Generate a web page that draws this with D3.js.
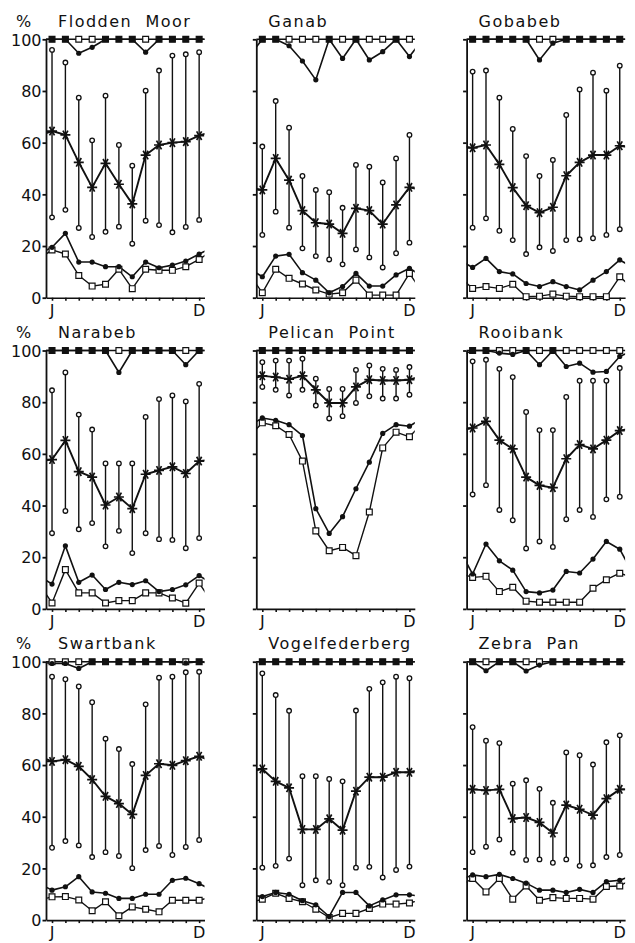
<!DOCTYPE html>
<html>
<head>
<meta charset="utf-8">
<script src="https://cdn.jsdelivr.net/npm/d3@7"></script>
<style>
  body { margin: 0; background: #fff; }
  text { font-family: "DejaVu Sans", sans-serif; fill: #111; }
</style>
</head>
<body>
<div id="wrapper"></div>
<script>
// stations, row by row
const stations = ["Flodden  Moor", "Ganab", "Gobabeb",
                  "Narabeb", "Pelican  Point", "Rooibank",
                  "Swartbank", "Vogelfederberg", "Zebra  Pan"]
const monthLabels = ["J", "F", "M", "A", "M", "J", "J", "A", "S", "O", "N", "D"]
const yTicks = [0, 20, 40, 60, 80, 100]

// absolute maximum (open squares at the top)
const absMax = [
  [100, 100, 100, 100, 100, 100, 100, 100, 100, 100, 100, 100],
  [100, 100, 100, 100, 100, 100, 100, 100, 100, 100, 100, 100],
  [100, 100, 100, 100, 100, 100, 100, 100, 100, 100, 100, 100],
  [100, 100, 100, 100, 100, 100, 100, 100, 100, 100, 100, 100],
  [100, 100, 100, 100, 100, 100, 100, 100, 100, 100, 100, 100],
  [100, 100, 100, 100, 100, 100, 100, 100, 100, 100, 100, 100],
  [100, 100, 100, 100, 100, 100, 100, 100, 100, 100, 100, 100],
  [100, 100, 100, 100, 100, 100, 100, 100, 100, 100, 100, 100],
  [100, 100, 100, 100, 100, 100, 100, 100, 100, 100, 100, 100],
]
// mean maximum (filled circles near the top)
const meanMax = [
  [100, 100, 94.6, 96.9, 100, 100, 100, 95, 100, 100, 100, 100],
  [100, 100, 97.5, 91.6, 84.3, 100, 92.6, 100, 92, 95.2, 100, 93.3],
  [100, 100, 100, 100, 100, 92, 98.5, 100, 100, 100, 100, 100],
  [100, 100, 100, 100, 100, 91.5, 100, 100, 100, 100, 94.5, 100],
  [100, 100, 100, 100, 100, 100, 100, 100, 100, 100, 100, 100],
  [100, 100, 99, 98.5, 100, 94.5, 100, 93.8, 95.1, 91.6, 91.9, 97.7],
  [99.3, 99.3, 97.4, 100, 100, 100, 100, 100, 100, 100, 99.5, 100],
  [100, 100, 100, 100, 100, 100, 100, 100, 100, 100, 100, 100],
  [100, 96.5, 100, 100, 96.4, 98.7, 100, 100, 100, 100, 100, 100],
]
// monthly mean (asterisks)
const meanValues = [
  [64.5, 63, 52.4, 42.7, 52, 43.9, 36.3, 55.2, 59.1, 60, 60.4, 62.7],
  [41.7, 53.9, 45.5, 33.7, 29, 28.5, 24.9, 34.6, 33.7, 28.5, 35.9, 42.7],
  [58, 59.1, 51.6, 42.6, 35.6, 32.9, 35, 47.2, 52.4, 55.2, 55.2, 58.8],
  [57.8, 65.2, 53.1, 51, 40.2, 43.3, 38.8, 52.1, 53.6, 55, 52.4, 57.2],
  [90.2, 89.7, 88.9, 90.2, 84.8, 79.7, 79.7, 85.9, 88.7, 88.4, 88.4, 88.7],
  [70, 72.6, 65.3, 61.9, 51, 47.8, 46.9, 58.1, 63.6, 61.9, 65.3, 69],
  [61.4, 62.1, 59.5, 54.4, 47.9, 45.1, 40.9, 56, 60.5, 59.9, 61.7, 63.4],
  [58.5, 53.7, 51.2, 35.1, 35.1, 39.2, 34.8, 49.9, 55.3, 55.3, 57.2, 57.2],
  [50.6, 50.2, 50.6, 39.3, 39.7, 37.8, 33.7, 44.5, 42.9, 40.6, 47, 50.6],
]
// range bars, upper end (open circles)
const rangeHigh = [
  [95.9, 91, 77.4, 60.9, 78.2, 59.1, 51.1, 80.1, 87.9, 93.7, 94.2, 95],
  [58.5, 76.1, 65.8, 47.1, 41.7, 40.8, 34.8, 51.4, 50.7, 44.6, 53.9, 63],
  [87.5, 87.9, 77.4, 65.3, 54.8, 47.1, 53.3, 70.7, 80.6, 87.1, 80.1, 89.8],
  [84.6, 91.5, 75.2, 69.4, 56.3, 56.3, 56.3, 74.3, 81.2, 82.6, 80.3, 87.1],
  [95.5, 96.1, 96.1, 96.8, 89.1, 85.1, 85.1, 92.5, 94.2, 92.9, 92.5, 93.6],
  [95.8, 96.4, 92.9, 89.7, 76.2, 69.2, 69.2, 82, 88.3, 88.3, 88.3, 93.2],
  [94.2, 93.2, 90.4, 84.3, 70.2, 66.2, 60.4, 83.5, 93.8, 94.2, 95.9, 96.1],
  [95.5, 87.1, 81, 55.7, 55.7, 54.6, 53.7, 81.1, 89.5, 92, 94.2, 93.6],
  [74.7, 69.4, 68.5, 52.8, 54.1, 50.8, 45.4, 64.9, 63.8, 60.2, 68.8, 71.5],
]
// range bars, lower end (open circles)
const rangeLow = [
  [31.1, 34, 27, 23.5, 25.5, 27.5, 20.9, 29.8, 28.1, 25.3, 27.4, 30.1],
  [24.3, 33.3, 27.1, 19.1, 16.1, 14.8, 12.9, 18.7, 15.6, 11.7, 17.2, 21.3],
  [27.1, 30.7, 25.9, 22.3, 16.9, 19.5, 18.1, 22.3, 22.6, 23, 24.3, 26.5],
  [29.3, 37.9, 30.8, 33.2, 24.2, 30.2, 21.6, 29.3, 27, 26.7, 23.5, 27.4],
  [85.9, 84.8, 82.6, 84.8, 78.7, 73.7, 74.6, 79.7, 82.3, 81.4, 81.4, 82.9],
  [44.3, 47.9, 38.3, 34.3, 23.4, 26.1, 24, 34.7, 38.3, 35.6, 42.4, 43.4],
  [28, 30.6, 28.9, 24.4, 26.3, 24.8, 20.1, 27.1, 28.7, 25.2, 28.3, 31],
  [20.3, 21, 23.8, 13.5, 15.4, 14.8, 13.5, 20.3, 20.6, 16.5, 19.4, 20.7],
  [26.3, 28.4, 31.2, 26.1, 23.3, 23.5, 22.2, 23.5, 21, 21.2, 24.4, 25.2],
]
// mean minimum (filled circles near the bottom)
const meanMin = [
  [19.5, 24.9, 13.8, 13.8, 12, 12, 8.1, 13.8, 11.6, 12.6, 14.2, 16.9],
  [8.1, 16.1, 16.8, 9.7, 6.8, 1.9, 4.3, 9.4, 4.5, 4.5, 8.8, 11.4],
  [11.7, 15.2, 10.1, 9.2, 5.5, 4.3, 6.2, 4.3, 3, 6.8, 10.1, 14.6],
  [9.6, 24.4, 10.3, 13.1, 7.5, 10.3, 9.4, 10.9, 6.7, 7.5, 9.3, 12.9],
  [73.9, 73, 71.3, 67.1, 38.8, 29.2, 35.7, 46.5, 56.8, 67.9, 71.3, 70.7],
  [13.5, 25.1, 18.6, 15, 6.7, 6.2, 7.3, 14.5, 13.9, 19.3, 26.1, 23.1],
  [11.6, 12.9, 16.8, 10.9, 10.4, 8.4, 8.4, 10, 10, 15.4, 16.2, 14.1],
  [9.1, 10.7, 10, 7.5, 5.9, 1.4, 10.7, 10.7, 5.5, 7.8, 9.8, 9.8],
  [17.5, 16.8, 17.7, 16.1, 14.3, 11.6, 11.6, 10.7, 11.9, 10.7, 14.9, 15.4],
]
// absolute minimum (open squares near the bottom)
const absMin = [
  [18.5, 16.9, 8.6, 4.5, 5.2, 11, 3.5, 11, 10.6, 10.6, 12, 14.8],
  [1.9, 11, 7.5, 5.3, 3, 1.4, 1.9, 6.8, 1, 1, 1, 9.4],
  [3.6, 4.3, 3.6, 5.2, 0.4, 0.6, 1.4, 0.6, 0.4, 0.4, 0.4, 8.1],
  [2.3, 15.2, 6.2, 6.2, 2.3, 3.2, 3.2, 6.2, 6.2, 4.2, 2.2, 10],
  [72, 70.9, 67.5, 57.2, 30.2, 22.5, 23.8, 20.6, 37.5, 62.3, 68.4, 66.6],
  [12.2, 12.6, 6.7, 8.4, 3, 2.6, 2.6, 2.6, 2.6, 8, 11.3, 13.8],
  [9, 9.1, 7.8, 3.6, 7.1, 1.7, 5.1, 4.2, 3.2, 7.7, 7.7, 7.7],
  [8.1, 10.4, 8.4, 7.1, 4.2, 1, 2.6, 2.6, 4.5, 6.2, 6.2, 6.6],
  [16.1, 10.9, 16.1, 8.1, 13.2, 7.7, 8.7, 8.4, 8.4, 8.1, 13, 13.2],
]

// chart dimensions
const dimensions = {
  width: 635,
  height: 943,
  panelWidth: 158.5,
  panelHeight: 258.4,
  colStep: 210.3,
  rowStep: 311.2,
  margins: { top: 39.3, left: 46 },
}

const svg = d3.select("#wrapper")
  .append("svg")
  .attr("width", dimensions.width)
  .attr("height", dimensions.height)

const xScale = d3.scaleLinear()
  .domain([-0.45, 11.4])
  .range([0, dimensions.panelWidth])

const yScale = d3.scaleLinear()
  .domain([0, 100])
  .range([dimensions.panelHeight, 0])

// lines wrap Dec -> Jan at both ends, then get clipped to the panel
const wrapped = values => [
  { m: -1, v: values[11] },
  ...values.map((v, m) => ({ m, v })),
  { m: 12, v: values[0] },
]
const lineGenerator = d3.line()
  .x(d => xScale(d.m))
  .y(d => yScale(d.v))

const asterisk = d3.symbol().type(d3.symbolAsterisk).size(70)
const square = d3.symbol().type(d3.symbolSquare).size(34)

stations.forEach((name, i) => {
  const col = i % 3
  const row = Math.floor(i / 3)
  const g = svg.append("g")
    .attr("transform", `translate(${dimensions.margins.left + col * dimensions.colStep},${dimensions.margins.top + row * dimensions.rowStep})`)

  g.append("clipPath")
    .attr("id", `clip${i}`)
    .append("rect")
    .attr("x", 0)
    .attr("y", -10)
    .attr("width", dimensions.panelWidth)
    .attr("height", dimensions.panelHeight + 20)

  // axes
  const yAxis = g.append("g")
    .call(d3.axisLeft(yScale)
      .tickValues(yTicks)
      .tickSize(3.5)
      .tickSizeOuter(0)
      .tickPadding(1)
      .tickFormat(d => col === 0 ? d : ""))
  yAxis.selectAll("text").style("font-size", "16px").attr("dy", "0.36em")
  yAxis.selectAll("path, line").attr("stroke", "#111").attr("stroke-width", 1.8)

  const xAxis = g.append("g")
    .attr("transform", `translate(0,${dimensions.panelHeight})`)
    .call(d3.axisBottom(xScale)
      .tickValues(d3.range(12))
      .tickSize(3)
      .tickSizeOuter(0)
      .tickFormat(""))
  xAxis.selectAll("path, line").attr("stroke", "#111").attr("stroke-width", 1.6)

  g.selectAll(".mlabel")
    .data([0, 11])
    .join("text")
    .attr("x", d => xScale(d))
    .attr("y", dimensions.panelHeight + 18)
    .attr("text-anchor", "middle")
    .style("font-size", "16px")
    .text(d => monthLabels[d])

  // titles
  g.append("text")
    .attr("x", 12)
    .attr("y", -12.5)
    .style("font-size", "16px")
    .style("letter-spacing", "1.5px")
    .style("white-space", "pre")
    .text(name)
  if (col === 0) {
    g.append("text")
      .attr("x", -30)
      .attr("y", -12.5)
      .style("font-size", "16px")
      .text("%")
  }

  const lines = g.append("g").attr("clip-path", `url(#clip${i})`)
  const addLine = (values, width) => lines.append("path")
    .attr("d", lineGenerator(wrapped(values)))
    .attr("fill", "none")
    .attr("stroke", "#111")
    .attr("stroke-width", width)
    .attr("stroke-linejoin", "round")

  addLine(absMax[i], 1.6)
  addLine(meanMax[i], 1.6)
  addLine(meanValues[i], 1.9)
  addLine(meanMin[i], 1.6)
  addLine(absMin[i], 1.4)

  // range bars
  g.selectAll(".bar")
    .data(d3.range(12))
    .join("line")
    .attr("x1", m => xScale(m))
    .attr("x2", m => xScale(m))
    .attr("y1", m => yScale(rangeHigh[i][m]))
    .attr("y2", m => yScale(rangeLow[i][m]))
    .attr("stroke", "#111")
    .attr("stroke-width", 1.4)

  g.selectAll(".rangeEnd")
    .data(d3.range(12).flatMap(m => [rangeHigh[i][m], rangeLow[i][m]].map(v => ({ m, v }))))
    .join("circle")
    .attr("cx", d => xScale(d.m))
    .attr("cy", d => yScale(d.v))
    .attr("r", 2.3)
    .attr("fill", "#fff")
    .attr("stroke", "#111")
    .attr("stroke-width", 1.3)

  // squares: filled where the mean maximum reaches them
  g.selectAll(".absMax")
    .data(absMax[i].map((v, m) => ({ m, v, full: meanMax[i][m] >= v })))
    .join("path")
    .attr("d", square)
    .attr("transform", d => `translate(${xScale(d.m)},${yScale(d.v)})`)
    .attr("fill", d => d.full ? "#111" : "#fff")
    .attr("stroke", "#111")
    .attr("stroke-width", 1.2)

  g.selectAll(".meanMax")
    .data(meanMax[i].map((v, m) => ({ m, v })).filter(d => d.v < absMax[i][d.m]))
    .join("circle")
    .attr("cx", d => xScale(d.m))
    .attr("cy", d => yScale(d.v))
    .attr("r", 2.6)
    .attr("fill", "#111")

  g.selectAll(".absMin")
    .data(absMin[i].map((v, m) => ({ m, v })))
    .join("path")
    .attr("d", square)
    .attr("transform", d => `translate(${xScale(d.m)},${yScale(d.v)})`)
    .attr("fill", "#fff")
    .attr("stroke", "#111")
    .attr("stroke-width", 1.2)

  g.selectAll(".meanMin")
    .data(meanMin[i].map((v, m) => ({ m, v })))
    .join("circle")
    .attr("cx", d => xScale(d.m))
    .attr("cy", d => yScale(d.v))
    .attr("r", 2.6)
    .attr("fill", "#111")

  g.selectAll(".mean")
    .data(meanValues[i].map((v, m) => ({ m, v })))
    .join("path")
    .attr("d", asterisk)
    .attr("transform", d => `translate(${xScale(d.m)},${yScale(d.v)}) rotate(90)`)
    .attr("fill", "none")
    .attr("stroke", "#111")
    .attr("stroke-width", 1.7)
})
</script>
</body>
</html>
